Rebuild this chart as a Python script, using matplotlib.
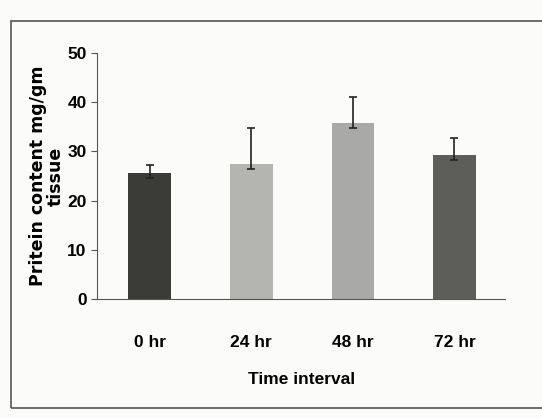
import matplotlib
matplotlib.use("Agg")
import matplotlib.pyplot as plt
from matplotlib.patches import Rectangle

categories = ["0 hr", "24 hr", "48 hr", "72 hr"]
values = [25.6, 27.4, 35.8, 29.3]
err_lower = [1.0, 1.0, 1.0, 1.0]
err_upper = [1.6, 7.4, 5.3, 3.4]
colors = ["#3b3b37", "#b4b4b1", "#a9a9a8", "#5d5d59"]
yticks = [0, 10, 20, 30, 40, 50]

plt.rcParams['font.family'] = ['Liberation Sans Narrow', 'Liberation Sans', 'DejaVu Sans']

fig = plt.figure(figsize=(5.42, 4.18), dpi=100)
fig.patch.set_facecolor("#fbfbfa")
fig.patches.append(Rectangle((0.02, 0.025), 1.2, 0.925, transform=fig.transFigure,
                             fill=False, edgecolor="#555555", linewidth=1.2))

ax = fig.add_axes([0.179, 0.285, 0.753, 0.588])
ax.set_facecolor("#fbfbfa")
x = range(len(categories))
ax.bar(x, values, width=0.42, color=colors, edgecolor="none",
       yerr=[err_lower, err_upper], capsize=3,
       error_kw=dict(ecolor="#222222", elinewidth=1.2, capthick=1.2))
ax.set_xlim(-0.52, 3.5)
ax.set_ylim(0, 50)
ax.set_yticks(yticks)
ax.set_xticks(list(x))
ax.set_xticklabels(categories)
for s in ["top", "right"]:
    ax.spines[s].set_visible(False)
ax.spines["left"].set_color("#555555")
ax.spines["bottom"].set_color("#555555")
ax.tick_params(axis="x", length=0, pad=26, labelsize=12.5)
ax.tick_params(axis="y", length=4, labelsize=12.5, color="#555555")
for t in ax.get_xticklabels() + ax.get_yticklabels():
    t.set_fontweight("bold")
ax.set_xlabel("Time interval", fontsize=12.5, fontweight="bold", labelpad=16)
ax.set_ylabel("Pritein content mg/gm\ntissue", fontsize=12.5, fontweight="bold",
              family=['DejaVu Sans'], labelpad=2, linespacing=0.95)

fig.savefig("out.png", dpi=100, facecolor=fig.get_facecolor())
